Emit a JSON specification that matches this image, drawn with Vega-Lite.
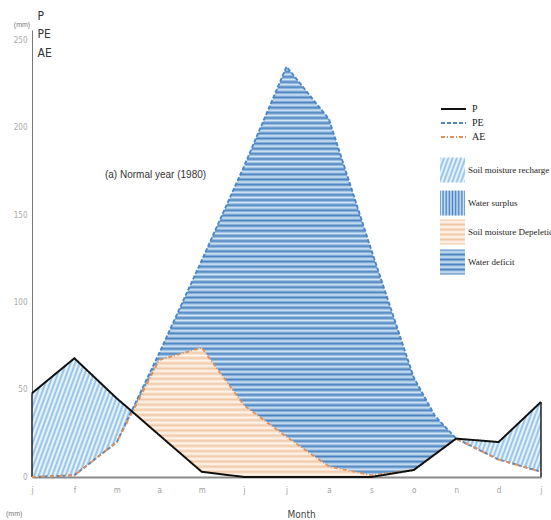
{
"$schema": "https://vega.github.io/schema/vega-lite/v6.json",
"width": 509, "height": 447,
"autosize": "none",
"padding": {"left": 32, "top": 30, "right": 10, "bottom": 43},
"background": "white",
"config": {"view": {"stroke": null}, "font": "Liberation Sans"},
"data": {"values": [
{"m": 0, "P": 48, "PE": 0, "AE": 0},
{"m": 1, "P": 68, "PE": 1, "AE": 1},
{"m": 2, "P": 45, "PE": 20, "AE": 20},
{"m": 2.37, "P": 37.3, "PE": 38.9, "AE": 37.3},
{"m": 3, "P": 24, "PE": 71, "AE": 67},
{"m": 4, "P": 3, "PE": 124, "AE": 74},
{"m": 5, "P": 0, "PE": 178, "AE": 41},
{"m": 6, "P": 0, "PE": 235, "AE": 23},
{"m": 7, "P": 0, "PE": 205, "AE": 6},
{"m": 8, "P": 0, "PE": 130, "AE": 1},
{"m": 9, "P": 4, "PE": 57, "AE": 4},
{"m": 9.5, "P": 13, "PE": 35, "AE": 13},
{"m": 10, "P": 22, "PE": 22, "AE": 22},
{"m": 11, "P": 20, "PE": 10, "AE": 10},
{"m": 12, "P": 43, "PE": 3, "AE": 3}
]},
"layer": [
{
"mark": {"type": "area", "fill": {"gradient": "linear", "x1": 0, "y1": 0, "x2": 0, "y2": 1, "stops": [
{"offset":0,"color":"#4a82c0"},{"offset":0.00625,"color":"#d3e7f6"},{"offset":0.0125,"color":"#4a82c0"},{"offset":0.01875,"color":"#d3e7f6"},{"offset":0.025,"color":"#4a82c0"},{"offset":0.03125,"color":"#d3e7f6"},{"offset":0.0375,"color":"#4a82c0"},{"offset":0.04375,"color":"#d3e7f6"},{"offset":0.05,"color":"#4a82c0"},{"offset":0.05625,"color":"#d3e7f6"},{"offset":0.0625,"color":"#4a82c0"},{"offset":0.06875,"color":"#d3e7f6"},{"offset":0.075,"color":"#4a82c0"},{"offset":0.08125,"color":"#d3e7f6"},{"offset":0.0875,"color":"#4a82c0"},{"offset":0.09375,"color":"#d3e7f6"},
{"offset":0.1,"color":"#4a82c0"},{"offset":0.10625,"color":"#d3e7f6"},{"offset":0.1125,"color":"#4a82c0"},{"offset":0.11875,"color":"#d3e7f6"},{"offset":0.125,"color":"#4a82c0"},{"offset":0.13125,"color":"#d3e7f6"},{"offset":0.1375,"color":"#4a82c0"},{"offset":0.14375,"color":"#d3e7f6"},{"offset":0.15,"color":"#4a82c0"},{"offset":0.15625,"color":"#d3e7f6"},{"offset":0.1625,"color":"#4a82c0"},{"offset":0.16875,"color":"#d3e7f6"},{"offset":0.175,"color":"#4a82c0"},{"offset":0.18125,"color":"#d3e7f6"},{"offset":0.1875,"color":"#4a82c0"},{"offset":0.19375,"color":"#d3e7f6"},
{"offset":0.2,"color":"#4a82c0"},{"offset":0.20625,"color":"#d3e7f6"},{"offset":0.2125,"color":"#4a82c0"},{"offset":0.21875,"color":"#d3e7f6"},{"offset":0.225,"color":"#4a82c0"},{"offset":0.23125,"color":"#d3e7f6"},{"offset":0.2375,"color":"#4a82c0"},{"offset":0.24375,"color":"#d3e7f6"},{"offset":0.25,"color":"#4a82c0"},{"offset":0.25625,"color":"#d3e7f6"},{"offset":0.2625,"color":"#4a82c0"},{"offset":0.26875,"color":"#d3e7f6"},{"offset":0.275,"color":"#4a82c0"},{"offset":0.28125,"color":"#d3e7f6"},{"offset":0.2875,"color":"#4a82c0"},{"offset":0.29375,"color":"#d3e7f6"},
{"offset":0.3,"color":"#4a82c0"},{"offset":0.30625,"color":"#d3e7f6"},{"offset":0.3125,"color":"#4a82c0"},{"offset":0.31875,"color":"#d3e7f6"},{"offset":0.325,"color":"#4a82c0"},{"offset":0.33125,"color":"#d3e7f6"},{"offset":0.3375,"color":"#4a82c0"},{"offset":0.34375,"color":"#d3e7f6"},{"offset":0.35,"color":"#4a82c0"},{"offset":0.35625,"color":"#d3e7f6"},{"offset":0.3625,"color":"#4a82c0"},{"offset":0.36875,"color":"#d3e7f6"},{"offset":0.375,"color":"#4a82c0"},{"offset":0.38125,"color":"#d3e7f6"},{"offset":0.3875,"color":"#4a82c0"},{"offset":0.39375,"color":"#d3e7f6"},
{"offset":0.4,"color":"#4a82c0"},{"offset":0.40625,"color":"#d3e7f6"},{"offset":0.4125,"color":"#4a82c0"},{"offset":0.41875,"color":"#d3e7f6"},{"offset":0.425,"color":"#4a82c0"},{"offset":0.43125,"color":"#d3e7f6"},{"offset":0.4375,"color":"#4a82c0"},{"offset":0.44375,"color":"#d3e7f6"},{"offset":0.45,"color":"#4a82c0"},{"offset":0.45625,"color":"#d3e7f6"},{"offset":0.4625,"color":"#4a82c0"},{"offset":0.46875,"color":"#d3e7f6"},{"offset":0.475,"color":"#4a82c0"},{"offset":0.48125,"color":"#d3e7f6"},{"offset":0.4875,"color":"#4a82c0"},{"offset":0.49375,"color":"#d3e7f6"},
{"offset":0.5,"color":"#4a82c0"},{"offset":0.50625,"color":"#d3e7f6"},{"offset":0.5125,"color":"#4a82c0"},{"offset":0.51875,"color":"#d3e7f6"},{"offset":0.525,"color":"#4a82c0"},{"offset":0.53125,"color":"#d3e7f6"},{"offset":0.5375,"color":"#4a82c0"},{"offset":0.54375,"color":"#d3e7f6"},{"offset":0.55,"color":"#4a82c0"},{"offset":0.55625,"color":"#d3e7f6"},{"offset":0.5625,"color":"#4a82c0"},{"offset":0.56875,"color":"#d3e7f6"},{"offset":0.575,"color":"#4a82c0"},{"offset":0.58125,"color":"#d3e7f6"},{"offset":0.5875,"color":"#4a82c0"},{"offset":0.59375,"color":"#d3e7f6"},
{"offset":0.6,"color":"#4a82c0"},{"offset":0.60625,"color":"#d3e7f6"},{"offset":0.6125,"color":"#4a82c0"},{"offset":0.61875,"color":"#d3e7f6"},{"offset":0.625,"color":"#4a82c0"},{"offset":0.63125,"color":"#d3e7f6"},{"offset":0.6375,"color":"#4a82c0"},{"offset":0.64375,"color":"#d3e7f6"},{"offset":0.65,"color":"#4a82c0"},{"offset":0.65625,"color":"#d3e7f6"},{"offset":0.6625,"color":"#4a82c0"},{"offset":0.66875,"color":"#d3e7f6"},{"offset":0.675,"color":"#4a82c0"},{"offset":0.68125,"color":"#d3e7f6"},{"offset":0.6875,"color":"#4a82c0"},{"offset":0.69375,"color":"#d3e7f6"},
{"offset":0.7,"color":"#4a82c0"},{"offset":0.70625,"color":"#d3e7f6"},{"offset":0.7125,"color":"#4a82c0"},{"offset":0.71875,"color":"#d3e7f6"},{"offset":0.725,"color":"#4a82c0"},{"offset":0.73125,"color":"#d3e7f6"},{"offset":0.7375,"color":"#4a82c0"},{"offset":0.74375,"color":"#d3e7f6"},{"offset":0.75,"color":"#4a82c0"},{"offset":0.75625,"color":"#d3e7f6"},{"offset":0.7625,"color":"#4a82c0"},{"offset":0.76875,"color":"#d3e7f6"},{"offset":0.775,"color":"#4a82c0"},{"offset":0.78125,"color":"#d3e7f6"},{"offset":0.7875,"color":"#4a82c0"},{"offset":0.79375,"color":"#d3e7f6"},
{"offset":0.8,"color":"#4a82c0"},{"offset":0.80625,"color":"#d3e7f6"},{"offset":0.8125,"color":"#4a82c0"},{"offset":0.81875,"color":"#d3e7f6"},{"offset":0.825,"color":"#4a82c0"},{"offset":0.83125,"color":"#d3e7f6"},{"offset":0.8375,"color":"#4a82c0"},{"offset":0.84375,"color":"#d3e7f6"},{"offset":0.85,"color":"#4a82c0"},{"offset":0.85625,"color":"#d3e7f6"},{"offset":0.8625,"color":"#4a82c0"},{"offset":0.86875,"color":"#d3e7f6"},{"offset":0.875,"color":"#4a82c0"},{"offset":0.88125,"color":"#d3e7f6"},{"offset":0.8875,"color":"#4a82c0"},{"offset":0.89375,"color":"#d3e7f6"},
{"offset":0.9,"color":"#4a82c0"},{"offset":0.90625,"color":"#d3e7f6"},{"offset":0.9125,"color":"#4a82c0"},{"offset":0.91875,"color":"#d3e7f6"},{"offset":0.925,"color":"#4a82c0"},{"offset":0.93125,"color":"#d3e7f6"},{"offset":0.9375,"color":"#4a82c0"},{"offset":0.94375,"color":"#d3e7f6"},{"offset":0.95,"color":"#4a82c0"},{"offset":0.95625,"color":"#d3e7f6"},{"offset":0.9625,"color":"#4a82c0"},{"offset":0.96875,"color":"#d3e7f6"},{"offset":0.975,"color":"#4a82c0"},{"offset":0.98125,"color":"#d3e7f6"},{"offset":0.9875,"color":"#4a82c0"},{"offset":0.99375,"color":"#d3e7f6"},
{"offset":1,"color":"#4a82c0"}
]}},
"encoding": {
"x": {"field": "m", "type": "quantitative", "scale": {"domain": [0, 12], "nice": false},
 "axis": {"values": [0,1,2,3,4,5,6,7,8,9,10,11,12], "labelExpr": "['j','f','m','a','m','j','j','a','s','o','n','d','j'][datum.value]", "title": "Month", "ticks": false, "grid": false, "domainColor": "#8a8a8a", "domainWidth": 2, "labelColor": "#a0a0a0", "labelFontSize": 8, "labelFont": "DejaVu Sans Condensed", "labelPadding": 9, "labelFlush": false, "labelOverlap": false, "titleFontSize": 10, "titleFontWeight": "normal", "titleColor": "#444", "titleFont": "DejaVu Sans Condensed", "titlePadding": 15, "titleX": 269}},
"y": {"field": "PE", "type": "quantitative", "scale": {"domain": [0, 256], "nice": false},
 "axis": {"values": [0,50,100,150,200,250], "ticks": false, "grid": false, "domainColor": "#777", "labelColor": "#a8a8a8", "labelFontSize": 8, "labelFont": "DejaVu Sans Condensed", "labelPadding": 5, "title": ["P","PE","AE"], "titleAngle": 0, "titleAlign": "left", "titleBaseline": "top", "titleX": 5, "titleY": -20, "titleFontSize": 12, "titleFontWeight": "normal", "titleColor": "#333", "titleFont": "DejaVu Sans Condensed", "titleLineHeight": 18.5}},
"y2": {"field": "AE"}
}
},
{
"transform": [{"filter": {"field": "m", "range": [2.37, 9]}}],
"mark": {"type": "area", "fill": {"gradient": "linear", "x1": 0, "y1": 0, "x2": 0, "y2": 1, "stops": [
{"offset":0,"color":"#f1c8a6"},{"offset":0.02,"color":"#fef7f0"},{"offset":0.04,"color":"#f1c8a6"},{"offset":0.06,"color":"#fef7f0"},{"offset":0.08,"color":"#f1c8a6"},{"offset":0.1,"color":"#fef7f0"},{"offset":0.12,"color":"#f1c8a6"},{"offset":0.14,"color":"#fef7f0"},{"offset":0.16,"color":"#f1c8a6"},{"offset":0.18,"color":"#fef7f0"},
{"offset":0.2,"color":"#f1c8a6"},{"offset":0.22,"color":"#fef7f0"},{"offset":0.24,"color":"#f1c8a6"},{"offset":0.26,"color":"#fef7f0"},{"offset":0.28,"color":"#f1c8a6"},{"offset":0.3,"color":"#fef7f0"},{"offset":0.32,"color":"#f1c8a6"},{"offset":0.34,"color":"#fef7f0"},{"offset":0.36,"color":"#f1c8a6"},{"offset":0.38,"color":"#fef7f0"},
{"offset":0.4,"color":"#f1c8a6"},{"offset":0.42,"color":"#fef7f0"},{"offset":0.44,"color":"#f1c8a6"},{"offset":0.46,"color":"#fef7f0"},{"offset":0.48,"color":"#f1c8a6"},{"offset":0.5,"color":"#fef7f0"},{"offset":0.52,"color":"#f1c8a6"},{"offset":0.54,"color":"#fef7f0"},{"offset":0.56,"color":"#f1c8a6"},{"offset":0.58,"color":"#fef7f0"},
{"offset":0.6,"color":"#f1c8a6"},{"offset":0.62,"color":"#fef7f0"},{"offset":0.64,"color":"#f1c8a6"},{"offset":0.66,"color":"#fef7f0"},{"offset":0.68,"color":"#f1c8a6"},{"offset":0.7,"color":"#fef7f0"},{"offset":0.72,"color":"#f1c8a6"},{"offset":0.74,"color":"#fef7f0"},{"offset":0.76,"color":"#f1c8a6"},{"offset":0.78,"color":"#fef7f0"},
{"offset":0.8,"color":"#f1c8a6"},{"offset":0.82,"color":"#fef7f0"},{"offset":0.84,"color":"#f1c8a6"},{"offset":0.86,"color":"#fef7f0"},{"offset":0.88,"color":"#f1c8a6"},{"offset":0.9,"color":"#fef7f0"},{"offset":0.92,"color":"#f1c8a6"},{"offset":0.94,"color":"#fef7f0"},{"offset":0.96,"color":"#f1c8a6"},{"offset":0.98,"color":"#fef7f0"},
{"offset":1,"color":"#f1c8a6"}
]}},
"encoding": {"x": {"field": "m", "type": "quantitative"}, "y": {"field": "AE", "type": "quantitative"}, "y2": {"field": "P"}}
},
{
"transform": [{"filter": {"field": "m", "range": [0, 2.37]}}],
"mark": {"type": "area", "fill": {"gradient": "linear", "x1": 0, "y1": 0, "x2": 1.207, "y2": 0.519, "stops": [
{"offset":0,"color":"#8dbfe6"},{"offset":0.015625,"color":"#f7fbfe"},{"offset":0.03125,"color":"#8dbfe6"},{"offset":0.046875,"color":"#f7fbfe"},{"offset":0.0625,"color":"#8dbfe6"},{"offset":0.078125,"color":"#f7fbfe"},{"offset":0.09375,"color":"#8dbfe6"},{"offset":0.109375,"color":"#f7fbfe"},{"offset":0.125,"color":"#8dbfe6"},{"offset":0.140625,"color":"#f7fbfe"},{"offset":0.15625,"color":"#8dbfe6"},{"offset":0.171875,"color":"#f7fbfe"},{"offset":0.1875,"color":"#8dbfe6"},{"offset":0.203125,"color":"#f7fbfe"},{"offset":0.21875,"color":"#8dbfe6"},{"offset":0.234375,"color":"#f7fbfe"},
{"offset":0.25,"color":"#8dbfe6"},{"offset":0.265625,"color":"#f7fbfe"},{"offset":0.28125,"color":"#8dbfe6"},{"offset":0.296875,"color":"#f7fbfe"},{"offset":0.3125,"color":"#8dbfe6"},{"offset":0.328125,"color":"#f7fbfe"},{"offset":0.34375,"color":"#8dbfe6"},{"offset":0.359375,"color":"#f7fbfe"},{"offset":0.375,"color":"#8dbfe6"},{"offset":0.390625,"color":"#f7fbfe"},{"offset":0.40625,"color":"#8dbfe6"},{"offset":0.421875,"color":"#f7fbfe"},{"offset":0.4375,"color":"#8dbfe6"},{"offset":0.453125,"color":"#f7fbfe"},{"offset":0.46875,"color":"#8dbfe6"},{"offset":0.484375,"color":"#f7fbfe"},
{"offset":0.5,"color":"#8dbfe6"},{"offset":0.515625,"color":"#f7fbfe"},{"offset":0.53125,"color":"#8dbfe6"},{"offset":0.546875,"color":"#f7fbfe"},{"offset":0.5625,"color":"#8dbfe6"},{"offset":0.578125,"color":"#f7fbfe"},{"offset":0.59375,"color":"#8dbfe6"},{"offset":0.609375,"color":"#f7fbfe"},{"offset":0.625,"color":"#8dbfe6"},{"offset":0.640625,"color":"#f7fbfe"},{"offset":0.65625,"color":"#8dbfe6"},{"offset":0.671875,"color":"#f7fbfe"},{"offset":0.6875,"color":"#8dbfe6"},{"offset":0.703125,"color":"#f7fbfe"},{"offset":0.71875,"color":"#8dbfe6"},{"offset":0.734375,"color":"#f7fbfe"},
{"offset":0.75,"color":"#8dbfe6"},{"offset":0.765625,"color":"#f7fbfe"},{"offset":0.78125,"color":"#8dbfe6"},{"offset":0.796875,"color":"#f7fbfe"},{"offset":0.8125,"color":"#8dbfe6"},{"offset":0.828125,"color":"#f7fbfe"},{"offset":0.84375,"color":"#8dbfe6"},{"offset":0.859375,"color":"#f7fbfe"},{"offset":0.875,"color":"#8dbfe6"},{"offset":0.890625,"color":"#f7fbfe"},{"offset":0.90625,"color":"#8dbfe6"},{"offset":0.921875,"color":"#f7fbfe"},{"offset":0.9375,"color":"#8dbfe6"},{"offset":0.953125,"color":"#f7fbfe"},{"offset":0.96875,"color":"#8dbfe6"},{"offset":0.984375,"color":"#f7fbfe"},
{"offset":1,"color":"#8dbfe6"}
]}},
"encoding": {"x": {"field": "m", "type": "quantitative"}, "y": {"field": "P", "type": "quantitative"}, "y2": {"field": "AE"}}
},
{
"transform": [{"filter": {"field": "m", "range": [10, 12]}}],
"mark": {"type": "area", "fill": {"gradient": "linear", "x1": 0, "y1": 0, "x2": 1.193, "y2": 0.358, "stops": [
{"offset":0,"color":"#8dbfe6"},{"offset":0.02,"color":"#f7fbfe"},{"offset":0.04,"color":"#8dbfe6"},{"offset":0.06,"color":"#f7fbfe"},{"offset":0.08,"color":"#8dbfe6"},{"offset":0.1,"color":"#f7fbfe"},{"offset":0.12,"color":"#8dbfe6"},{"offset":0.14,"color":"#f7fbfe"},{"offset":0.16,"color":"#8dbfe6"},{"offset":0.18,"color":"#f7fbfe"},
{"offset":0.2,"color":"#8dbfe6"},{"offset":0.22,"color":"#f7fbfe"},{"offset":0.24,"color":"#8dbfe6"},{"offset":0.26,"color":"#f7fbfe"},{"offset":0.28,"color":"#8dbfe6"},{"offset":0.3,"color":"#f7fbfe"},{"offset":0.32,"color":"#8dbfe6"},{"offset":0.34,"color":"#f7fbfe"},{"offset":0.36,"color":"#8dbfe6"},{"offset":0.38,"color":"#f7fbfe"},
{"offset":0.4,"color":"#8dbfe6"},{"offset":0.42,"color":"#f7fbfe"},{"offset":0.44,"color":"#8dbfe6"},{"offset":0.46,"color":"#f7fbfe"},{"offset":0.48,"color":"#8dbfe6"},{"offset":0.5,"color":"#f7fbfe"},{"offset":0.52,"color":"#8dbfe6"},{"offset":0.54,"color":"#f7fbfe"},{"offset":0.56,"color":"#8dbfe6"},{"offset":0.58,"color":"#f7fbfe"},
{"offset":0.6,"color":"#8dbfe6"},{"offset":0.62,"color":"#f7fbfe"},{"offset":0.64,"color":"#8dbfe6"},{"offset":0.66,"color":"#f7fbfe"},{"offset":0.68,"color":"#8dbfe6"},{"offset":0.7,"color":"#f7fbfe"},{"offset":0.72,"color":"#8dbfe6"},{"offset":0.74,"color":"#f7fbfe"},{"offset":0.76,"color":"#8dbfe6"},{"offset":0.78,"color":"#f7fbfe"},
{"offset":0.8,"color":"#8dbfe6"},{"offset":0.82,"color":"#f7fbfe"},{"offset":0.84,"color":"#8dbfe6"},{"offset":0.86,"color":"#f7fbfe"},{"offset":0.88,"color":"#8dbfe6"},{"offset":0.9,"color":"#f7fbfe"},{"offset":0.92,"color":"#8dbfe6"},{"offset":0.94,"color":"#f7fbfe"},{"offset":0.96,"color":"#8dbfe6"},{"offset":0.98,"color":"#f7fbfe"},
{"offset":1,"color":"#8dbfe6"}
]}},
"encoding": {"x": {"field": "m", "type": "quantitative"}, "y": {"field": "P", "type": "quantitative"}, "y2": {"field": "AE"}}
},
{
"transform": [{"filter": {"field": "m", "oneOf": [0, 12]}}],
"mark": {"type": "rule", "color": "#222", "strokeWidth": 1.5},
"encoding": {"x": {"field": "m", "type": "quantitative"}, "y": {"field": "P", "type": "quantitative"}, "y2": {"datum": 0}}
},
{
"transform": [{"fold": ["PE", "AE", "P"], "as": ["series", "val"]}],
"mark": {"type": "line"},
"encoding": {
"x": {"field": "m", "type": "quantitative"},
"y": {"field": "val", "type": "quantitative"},
"stroke": {"field": "series", "type": "nominal", "scale": {"domain": ["P", "PE", "AE"], "range": ["#111111", "#4a86c8", "#e0915a"]},
 "legend": {"title": null, "orient": "none", "legendX": 415.5, "legendY": 73, "symbolType": "M-2.5,0L2.5,0", "symbolSize": 100, "symbolStrokeWidth": 2, "rowPadding": 3, "padding": 0, "labelFont": "Liberation Serif", "labelFontSize": 10, "labelColor": "#222", "labelOffset": 12.5}},
"strokeDash": {"field": "series", "type": "nominal", "scale": {"domain": ["P", "PE", "AE"], "range": [[1, 0], [4, 2], [4, 2, 1, 2]]},
 "legend": {"title": null, "orient": "none", "legendX": 415.5, "legendY": 73, "symbolType": "M-2.5,0L2.5,0", "symbolSize": 100, "symbolStrokeWidth": 2, "rowPadding": 3, "padding": 0, "labelFont": "Liberation Serif", "labelFontSize": 10, "labelColor": "#222", "labelOffset": 12.5}},
"strokeWidth": {"field": "series", "type": "nominal", "scale": {"domain": ["P", "PE", "AE"], "range": [2, 1.8, 1.5]}, "legend": null}
}
},
{
"data": {"values": [{"region": "Soil moisture recharge"}]},
"mark": {"type": "square", "size": 625, "opacity": 1, "fill": {"gradient": "linear", "x1": 0, "y1": 0, "x2": 1.204, "y2": 0.438, "stops": [{"offset":0,"color":"#8dbfe6"},{"offset":0.0625,"color":"#f7fbfe"},{"offset":0.125,"color":"#8dbfe6"},{"offset":0.1875,"color":"#f7fbfe"},{"offset":0.25,"color":"#8dbfe6"},{"offset":0.3125,"color":"#f7fbfe"},{"offset":0.375,"color":"#8dbfe6"},{"offset":0.4375,"color":"#f7fbfe"},{"offset":0.5,"color":"#8dbfe6"},{"offset":0.5625,"color":"#f7fbfe"},{"offset":0.625,"color":"#8dbfe6"},{"offset":0.6875,"color":"#f7fbfe"},{"offset":0.75,"color":"#8dbfe6"},{"offset":0.8125,"color":"#f7fbfe"},{"offset":0.875,"color":"#8dbfe6"},{"offset":0.9375,"color":"#f7fbfe"},{"offset":1,"color":"#8dbfe6"}]}},
"encoding": {"x": {"datum": 9.913, "type": "quantitative"}, "y": {"datum": 175.8, "type": "quantitative"}}
},
{
"data": {"values": [{"region": "Water surplus"}]},
"mark": {"type": "square", "size": 625, "opacity": 1, "fill": {"gradient": "linear", "x1": 0, "y1": 0, "x2": 1, "y2": 0, "stops": [{"offset":0,"color":"#4a82c0"},{"offset":0.0625,"color":"#d3e7f6"},{"offset":0.125,"color":"#4a82c0"},{"offset":0.1875,"color":"#d3e7f6"},{"offset":0.25,"color":"#4a82c0"},{"offset":0.3125,"color":"#d3e7f6"},{"offset":0.375,"color":"#4a82c0"},{"offset":0.4375,"color":"#d3e7f6"},{"offset":0.5,"color":"#4a82c0"},{"offset":0.5625,"color":"#d3e7f6"},{"offset":0.625,"color":"#4a82c0"},{"offset":0.6875,"color":"#d3e7f6"},{"offset":0.75,"color":"#4a82c0"},{"offset":0.8125,"color":"#d3e7f6"},{"offset":0.875,"color":"#4a82c0"},{"offset":0.9375,"color":"#d3e7f6"},{"offset":1,"color":"#4a82c0"}]}},
"encoding": {"x": {"datum": 9.913, "type": "quantitative"}, "y": {"datum": 156.9, "type": "quantitative"}}
},
{
"data": {"values": [{"region": "Soil moisture Depeletion"}]},
"mark": {"type": "square", "size": 625, "opacity": 1, "fill": {"gradient": "linear", "x1": 0, "y1": 0, "x2": 0, "y2": 1, "stops": [{"offset":0,"color":"#f1c8a6"},{"offset":0.1,"color":"#fef7f0"},{"offset":0.2,"color":"#f1c8a6"},{"offset":0.3,"color":"#fef7f0"},{"offset":0.4,"color":"#f1c8a6"},{"offset":0.5,"color":"#fef7f0"},{"offset":0.6,"color":"#f1c8a6"},{"offset":0.7,"color":"#fef7f0"},{"offset":0.8,"color":"#f1c8a6"},{"offset":0.9,"color":"#fef7f0"},{"offset":1,"color":"#f1c8a6"}]}},
"encoding": {"x": {"datum": 9.913, "type": "quantitative"}, "y": {"datum": 140.3, "type": "quantitative"}}
},
{
"data": {"values": [{"region": "Water deficit"}]},
"mark": {"type": "square", "size": 625, "opacity": 1, "fill": {"gradient": "linear", "x1": 0, "y1": 0, "x2": 0, "y2": 1, "stops": [{"offset":0,"color":"#4a82c0"},{"offset":0.1,"color":"#d3e7f6"},{"offset":0.2,"color":"#4a82c0"},{"offset":0.3,"color":"#d3e7f6"},{"offset":0.4,"color":"#4a82c0"},{"offset":0.5,"color":"#d3e7f6"},{"offset":0.6,"color":"#4a82c0"},{"offset":0.7,"color":"#d3e7f6"},{"offset":0.8,"color":"#4a82c0"},{"offset":0.9,"color":"#d3e7f6"},{"offset":1,"color":"#4a82c0"}]}},
"encoding": {"x": {"datum": 9.913, "type": "quantitative"}, "y": {"datum": 123.1, "type": "quantitative"}}
},
{
"data": {"values": [{"region": "Soil moisture recharge"}]},
"mark": {"type": "text", "align": "left", "baseline": "middle", "font": "Liberation Serif", "fontSize": 9, "color": "#222"},
"encoding": {"x": {"datum": 10.28, "type": "quantitative"}, "y": {"datum": 175.8, "type": "quantitative"}, "text": {"field": "region"}}
},
{
"data": {"values": [{"region": "Water surplus"}]},
"mark": {"type": "text", "align": "left", "baseline": "middle", "font": "Liberation Serif", "fontSize": 9, "color": "#222"},
"encoding": {"x": {"datum": 10.28, "type": "quantitative"}, "y": {"datum": 156.9, "type": "quantitative"}, "text": {"field": "region"}}
},
{
"data": {"values": [{"region": "Soil moisture Depeletion"}]},
"mark": {"type": "text", "align": "left", "baseline": "middle", "font": "Liberation Serif", "fontSize": 9, "color": "#222"},
"encoding": {"x": {"datum": 10.28, "type": "quantitative"}, "y": {"datum": 140.3, "type": "quantitative"}, "text": {"field": "region"}}
},
{
"data": {"values": [{"region": "Water deficit"}]},
"mark": {"type": "text", "align": "left", "baseline": "middle", "font": "Liberation Serif", "fontSize": 9, "color": "#222"},
"encoding": {"x": {"datum": 10.28, "type": "quantitative"}, "y": {"datum": 123.1, "type": "quantitative"}, "text": {"field": "region"}}
},
{
"data": {"values": [{}]},
"mark": {"type": "text", "align": "left", "baseline": "middle", "fontSize": 10, "color": "#333", "font": "Liberation Sans"},
"encoding": {"x": {"datum": 1.72, "type": "quantitative"}, "y": {"datum": 173, "type": "quantitative"}, "text": {"value": "(a) Normal year (1980)"}}
},
{
"data": {"values": [{}]},
"mark": {"type": "text", "align": "center", "baseline": "middle", "fontSize": 7, "color": "#777"},
"encoding": {"x": {"datum": -0.236, "type": "quantitative"}, "y": {"datum": 258.9, "type": "quantitative"}, "text": {"value": "(mm)"}}
},
{
"data": {"values": [{}]},
"mark": {"type": "text", "align": "center", "baseline": "middle", "fontSize": 7, "color": "#777"},
"encoding": {"x": {"datum": -0.42, "type": "quantitative"}, "y": {"datum": -21.2, "type": "quantitative"}, "text": {"value": "(mm)"}}
}
]
}
